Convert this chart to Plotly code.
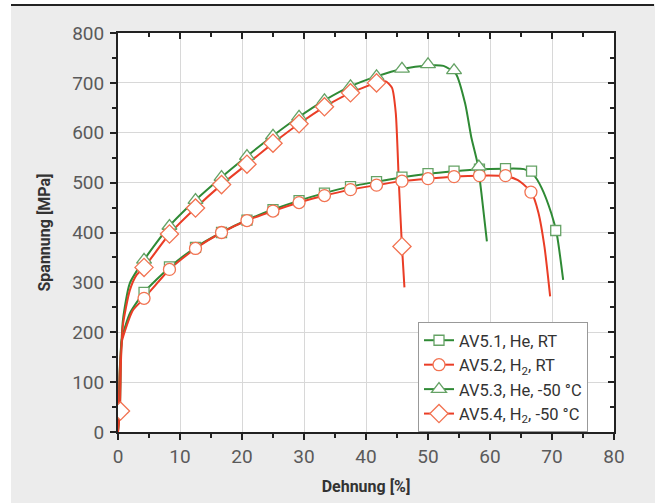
import plotly.graph_objects as go

# ---- data ----
# AV5.1, He, RT  (green, squares)
l1_x = [0, 0.3, 0.6, 1.0, 2.0, 4.2, 8.3, 12.5, 16.7, 20.8, 25.0, 29.2, 33.3, 37.5, 41.7, 45.8, 50.0, 54.2, 58.3, 62.5, 65.5, 67.0, 68.3, 69.9, 70.8, 71.8]
l1_y = [0, 130, 185, 205, 240, 280, 330, 370, 400, 425, 446, 464, 479, 492, 502, 511, 518, 523, 527, 528, 527, 516, 490, 438, 395, 305]
m1_x = [4.2, 8.3, 12.5, 16.7, 20.8, 25.0, 29.2, 33.3, 37.5, 41.7, 45.8, 50.0, 54.2, 58.3, 62.5, 66.7, 70.6]
m1_y = [280, 331, 370, 400, 425, 446, 464, 479, 492, 502, 511, 518, 523, 527, 528, 523, 404]

# AV5.2, H2, RT  (red, circles)
l2_x = [0, 0.3, 0.6, 1.0, 2.4, 4.2, 8.3, 12.5, 16.7, 20.8, 25.0, 29.2, 33.3, 37.5, 41.7, 45.8, 50.0, 54.2, 58.3, 62.5, 64.5, 65.8, 66.7, 67.8, 68.8, 69.7]
l2_y = [0, 125, 180, 198, 244, 268, 326, 368, 400, 424, 443, 460, 474, 486, 495, 503, 508, 512, 514, 513, 505, 492, 480, 440, 370, 272]
m2_x = [4.2, 8.3, 12.5, 16.7, 20.8, 25.0, 29.2, 33.3, 37.5, 41.7, 45.8, 50.0, 54.2, 58.3, 62.5, 66.6]
m2_y = [268, 326, 368, 400, 424, 443, 460, 474, 486, 495, 503, 508, 512, 514, 514, 481]

# AV5.3, He, -50 °C  (green, triangles)
l3_x = [0, 0.3, 0.5, 0.8, 1.9, 4.2, 8.3, 12.5, 16.7, 20.8, 25.0, 29.2, 33.3, 37.5, 41.7, 45.8, 50.0, 52.5, 54.5, 56.0, 57.0, 58.0, 58.7, 59.5]
l3_y = [0, 45, 160, 225, 298, 345, 413, 465, 511, 553, 594, 632, 665, 693, 713, 728, 735, 734, 718, 658, 590, 538, 470, 382]
m3_x = [0.4, 4.2, 8.3, 12.5, 16.7, 20.8, 25.0, 29.2, 33.3, 37.5, 41.7, 45.8, 50.0, 54.2, 58.2]
m3_y = [45, 345, 413, 465, 511, 553, 594, 632, 665, 693, 713, 728, 737, 725, 532]

# AV5.4, H2, -50 °C  (red, diamonds)
l4_x = [0, 0.3, 0.5, 0.8, 1.9, 3.0, 4.2, 8.3, 12.5, 16.7, 20.8, 25.0, 29.2, 33.3, 37.5, 41.7, 43.2, 44.2, 44.8, 45.3, 45.8, 46.2]
l4_y = [0, 42, 150, 215, 284, 315, 330, 397, 449, 496, 537, 579, 618, 652, 680, 700, 703, 690, 640, 500, 372, 290]
m4_x = [0.4, 4.2, 8.3, 12.5, 16.7, 20.8, 25.0, 29.2, 33.3, 37.5, 41.7, 45.8]
m4_y = [42, 330, 397, 449, 496, 537, 579, 618, 652, 680, 700, 372]

names = ["AV5.1, He, RT", "AV5.2, H<sub>2</sub>, RT", "AV5.3, He, -50 °C", "AV5.4, H<sub>2</sub>, -50 °C"]

x_ticks = [0, 10, 20, 30, 40, 50, 60, 70, 80]
y_ticks = [0, 100, 200, 300, 400, 500, 600, 700, 800]

GREEN_L = "#2f8a35"
GREEN_M = "#65a265"
RED_L = "#ea3d26"
RED_M = "#f27352"

series = [
    (l1_x, l1_y, m1_x, m1_y, GREEN_L, GREEN_M, "square", 10),
    (l2_x, l2_y, m2_x, m2_y, RED_L, RED_M, "circle", 12),
    (l3_x, l3_y, m3_x, m3_y, GREEN_L, GREEN_M, "triangle-up", 13),
    (l4_x, l4_y, m4_x, m4_y, RED_L, RED_M, "diamond", 14),
]

fig = go.Figure()
for (lx, ly, mx, my, lc, mc, sym, sz) in series:
    fig.add_trace(go.Scatter(x=lx, y=ly, mode="lines",
                             line=dict(color=lc, width=2, shape="spline", smoothing=0.6),
                             showlegend=False, hoverinfo="skip"))
for (lx, ly, mx, my, lc, mc, sym, sz) in series:
    fig.add_trace(go.Scatter(x=mx, y=my, mode="markers",
                             marker=dict(symbol=sym, size=sz, color="white",
                                         line=dict(color=mc, width=1.3)),
                             showlegend=False))
for i, (lx, ly, mx, my, lc, mc, sym, sz) in enumerate(series):
    fig.add_trace(go.Scatter(x=[None], y=[None], mode="lines+markers", name=names[i],
                             line=dict(color=lc, width=2),
                             marker=dict(symbol=sym, size=sz, color="white",
                                         line=dict(color=mc, width=1.3))))

# invisible trace for the mirrored (top/right) axes with inside ticks
fig.add_trace(go.Scatter(x=[None], y=[None], xaxis="x2", yaxis="y2", showlegend=False))

FONT = "Roboto"
PL, PR, PT, PB = 118, 614, 33, 432
W, H = 657, 503
pw, ph = PR - PL, PB - PT


def px(x):
    return (x - PL) / pw


def py(y):
    return (PB - y) / ph


fig.update_layout(
    width=W, height=H,
    paper_bgcolor="white",
    plot_bgcolor="white",
    margin=dict(l=PL, r=W - PR, t=PT, b=H - PB, autoexpand=False),
    font=dict(family=FONT, color="#555555", size=19),
    xaxis=dict(range=[0, 80], tickvals=x_ticks, ticks="outside", ticklen=6, tickwidth=1.5,
               tickcolor="#222", showline=True, linecolor="#222", linewidth=2,
               showgrid=True, gridcolor="#d8d8d8", gridwidth=1, zeroline=False,
               minor=dict(dtick=5, ticks="outside", ticklen=4, tickcolor="#222", showgrid=False),
               title=dict(text="<b>Dehnung [%]</b>", font=dict(size=16, color="#333"), standoff=14),
               tickfont=dict(size=19, color="#5a5a5a")),
    yaxis=dict(range=[0, 800], tickvals=y_ticks, ticks="outside", ticklen=6, tickwidth=1.5,
               tickcolor="#222", showline=True, linecolor="#222", linewidth=2,
               showgrid=True, gridcolor="#d8d8d8", gridwidth=1, zeroline=False,
               minor=dict(dtick=50, ticks="outside", ticklen=4, tickcolor="#222", showgrid=False),
               title=dict(text="<b>Spannung [MPa]</b>", font=dict(size=16, color="#333"), standoff=18),
               tickfont=dict(size=19, color="#5a5a5a"), ticklabelstandoff=2),
    xaxis2=dict(range=[0, 80], overlaying="x", side="top", tickvals=x_ticks, ticks="inside",
                ticklen=6, tickwidth=1.5, tickcolor="#222", showticklabels=False,
                showline=True, linecolor="#222", linewidth=2, showgrid=False, zeroline=False,
                minor=dict(dtick=5, ticks="inside", ticklen=4, tickcolor="#222")),
    yaxis2=dict(range=[0, 800], overlaying="y", side="right", tickvals=y_ticks, ticks="inside",
                ticklen=6, tickwidth=1.5, tickcolor="#222", showticklabels=False,
                showline=True, linecolor="#222", linewidth=2, showgrid=False, zeroline=False,
                minor=dict(dtick=50, ticks="inside", ticklen=4, tickcolor="#222")),
    legend=dict(x=px(418), y=py(322), xanchor="left", yanchor="top",
                bgcolor="white", bordercolor="#999999", borderwidth=1,
                font=dict(size=16.5, color="#333"), tracegroupgap=0,
                itemwidth=30),
    shapes=[
        dict(type="rect", xref="paper", yref="paper", layer="below",
             x0=px(11), x1=px(655), y0=py(H + 2), y1=py(4),
             fillcolor="#ececec", line=dict(width=0)),
        dict(type="rect", xref="paper", yref="paper", layer="below",
             x0=0, x1=1, y0=0, y1=1, fillcolor="white", line=dict(width=0)),
        dict(type="line", xref="paper", yref="paper",
             x0=px(11), x1=px(654), y0=py(5), y1=py(5),
             line=dict(color="#222", width=2)),
    ],
)

fig.write_html("out.html", config={"displayModeBar": False},
               post_script="document.body.style.margin='0px';document.body.style.overflow='hidden';")
